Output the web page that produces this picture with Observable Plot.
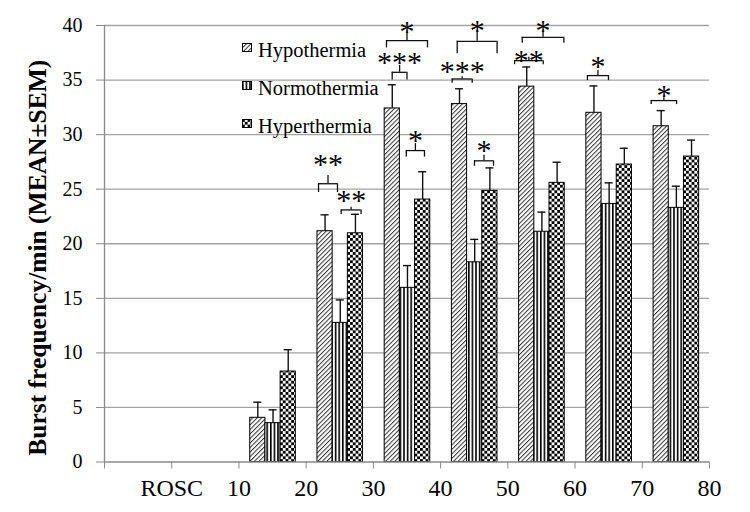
<!DOCTYPE html>
<html><head><meta charset="utf-8">
<script src="https://cdn.jsdelivr.net/npm/d3@7"></script>
<script src="https://cdn.jsdelivr.net/npm/@observablehq/plot@0.6"></script>
<style>
body{margin:0;background:#fff;}
#wrap{position:relative;width:750px;height:512px;font-family:"Liberation Serif","Times New Roman",serif;}
.item{position:absolute;white-space:nowrap;font-size:20.5px;color:#000;line-height:1;}
.item svg{position:absolute;left:0;}
</style></head><body><div id="wrap"></div>
<script>
// ---- data ----
const xLabels = ["", "ROSC", "10", "20", "30", "40", "50", "60", "70", "80"];
const groupInterval = [2, 3, 4, 5, 6, 7, 8]; // left tick index of each time interval (10-20 ... 70-80)
const seriesNames = ["Hypothermia", "Normothermia", "Hyperthermia"];
const hypo      = [4.05, 21.15, 32.4, 32.8, 34.4, 32.0, 30.77];
const hypoSem   = [1.43, 1.50, 2.17, 1.40, 1.80, 2.46, 1.43];
const normo     = [3.56, 12.75, 15.96, 18.3, 21.1, 23.65, 23.29];
const normoSem  = [1.22, 2.10, 2.04, 2.10, 1.80, 1.93, 1.98];
const hyper     = [8.29, 20.96, 24.05, 24.85, 25.58, 27.26, 27.99];
const hyperSem  = [2.00, 1.74, 2.55, 2.10, 1.89, 1.49, 1.51];
const yTicks = [0, 5, 10, 15, 20, 25, 30, 35, 40];
const yTitle = "Burst frequency/min (MEAN±SEM)";

// significance brackets (interval, from/to as fraction of interval, level, label)
const brInterval = [3, 3, 4, 4, 4, 5, 5, 5, 6, 6, 7, 8];
const brFrom     = [.184, .521, .28, .195, .49, .172, .247, .504, .10, .214, .184, .133];
const brTo       = [.466, .817, .50, .805, .76, .47, .84, .787, .526, .833, .497, .51];
const brLevel    = [25.5, 23.1, 35.71, 38.62, 28.54, 35.1, 38.55, 27.6, 36.78, 38.92, 35.41, 33.12];
const brDrop     = [0.8, 0.43, 0.7, 0.67, 0.6, 0.4, 1.13, 0.5, 0.37, 0.55, 0.46, 0.37];
const brRise     = [0.75, 0.25, 0.64, 0.64, 0.64, 0.2, 0.98, 0.5, 0.3, 0.46, 0.46, 0.25];
const brLabel    = ["**", "**", "***", "*", "*", "***", "*", "*", "**", "*", "*", "*"];
const brLabelY   = [27.9, 24.57, 37.24, 40.08, 30.1, 36.4, 40.2, 29.2, 37.45, 40.15, 36.88, 34.22];

// ---- build tables ----
const PAD = 0.168, BW = 0.226;
const means = [hypo, normo, hyper], sems = [hypoSem, normoSem, hyperSem];
const bars = [];
seriesNames.forEach((name, s) => {
  groupInterval.forEach((k, i) => {
    const x1 = k + PAD + s * BW;
    bars.push({series: name, s, x1, x2: x1 + BW, xc: x1 + BW / 2, mean: means[s][i], top: means[s][i] + sems[s][i]});
  });
});
const brackets = brInterval.map((k, i) => ({
  x1: k + brFrom[i], x2: k + brTo[i], xm: k + (brFrom[i] + brTo[i]) / 2,
  y: brLevel[i], yLow: brLevel[i] - brDrop[i], yHigh: brLevel[i] + brRise[i],
  label: brLabel[i], ly: brLabelY[i]
}));
const brEnds = brackets.flatMap(b => [{x: b.x1, y1: b.yLow, y2: b.y}, {x: b.x2, y1: b.yLow, y2: b.y}]);
const CAP = 0.06;
const fills = ["url(#pHatch)", "url(#pVert)", "url(#pCheck)"];

const plot = Plot.plot({
  width: 750, height: 512,
  marginLeft: 104, marginRight: 41, marginTop: 25, marginBottom: 50.5,
  style: {fontFamily: "'Liberation Serif','Times New Roman',serif", fontSize: "20px", color: "#000", background: "#fff"},
  x: {domain: [0, 9]},
  y: {domain: [0, 40]},
  marks: [
    Plot.ruleY(yTicks.filter(d => d > 0), {stroke: "#a3a3a3", strokeWidth: 1.3}),
    ...[0, 1, 2].map(s => Plot.rectY(bars.filter(b => b.s === s), {x1: "x1", x2: "x2", y1: 0, y2: "mean", fill: fills[s], stroke: "#000", strokeWidth: 1, insetLeft: 0, insetRight: 0})),
    Plot.ruleX(bars, {x: "xc", y1: "mean", y2: "top", stroke: "#111", strokeWidth: 1.4}),
    Plot.ruleY(bars, {y: "top", x1: d => d.xc - CAP, x2: d => d.xc + CAP, stroke: "#111", strokeWidth: 1.4}),
    Plot.ruleY(brackets, {y: "y", x1: "x1", x2: "x2", stroke: "#111", strokeWidth: 1.3}),
    Plot.ruleX(brEnds, {x: "x", y1: "y1", y2: "y2", stroke: "#111", strokeWidth: 1.3}),
    Plot.ruleX(brackets, {x: "xm", y1: "y", y2: "yHigh", stroke: "#111", strokeWidth: 1.3}),
    Plot.text(brackets, {x: "xm", y: "ly", text: "label", fontSize: 30, lineAnchor: "middle", dy: 7, fill: "#000"}),
    Plot.ruleX([0], {y1: 0, y2: 40, stroke: "#8a8a8a", strokeWidth: 1.3}),
    Plot.ruleY([0], {x1: 0, x2: 9, stroke: "#8a8a8a", strokeWidth: 1.3}),
    Plot.axisY({ticks: yTicks, tickSize: 8, tickPadding: 14, stroke: "#8a8a8a", fill: "#000", fontSize: 20, label: null, tickFormat: d => String(d)}),
    Plot.axisX({ticks: d3.range(0, 10), tickSize: 7, tickPadding: 10, stroke: "#8a8a8a", fill: "#000", fontSize: 24, label: null, tickFormat: i => xLabels[i]}),
    Plot.text([yTitle], {frameAnchor: "left", textAnchor: "middle", rotate: -90, dx: -67, dy: 14, fontSize: 25.5, fontWeight: "bold", fill: "#000"})
  ]
});

d3.select(plot).insert("defs", ":first-child").html(`
  <pattern id="pHatch" width="3.2" height="3.2" patternUnits="userSpaceOnUse" patternTransform="rotate(45)">
    <rect width="3.2" height="3.2" fill="#fff"/><rect width="1" height="3.2" fill="#333"/>
  </pattern>
  <pattern id="pVert" width="3.6" height="4" patternUnits="userSpaceOnUse">
    <rect width="3.6" height="4" fill="#fff"/><rect width="1.6" height="4" fill="#000"/>
  </pattern>
  <pattern id="pCheck" width="5.6" height="5.6" patternUnits="userSpaceOnUse">
    <rect width="5.6" height="5.6" fill="#fff"/><rect width="2.8" height="2.8" fill="#000"/><rect x="2.8" y="2.8" width="2.8" height="2.8" fill="#000"/>
  </pattern>`);

const wrap = document.getElementById("wrap");
wrap.appendChild(plot);

// legend inside plot area
const legendTop = [40, 78, 116];
seriesNames.forEach((name, s) => {
  const div = document.createElement("div");
  div.className = "item";
  div.style.left = "242px";
  div.style.top = legendTop[s] + "px";
  div.innerHTML = `<svg width="10" height="10" style="top:3px"><rect x="0.5" y="0.5" width="9" height="8" fill="${fills[s]}" stroke="#000" stroke-width="1"/></svg><span style="margin-left:16px">${name}</span>`;
  wrap.appendChild(div);
});
</script>
</body></html>
